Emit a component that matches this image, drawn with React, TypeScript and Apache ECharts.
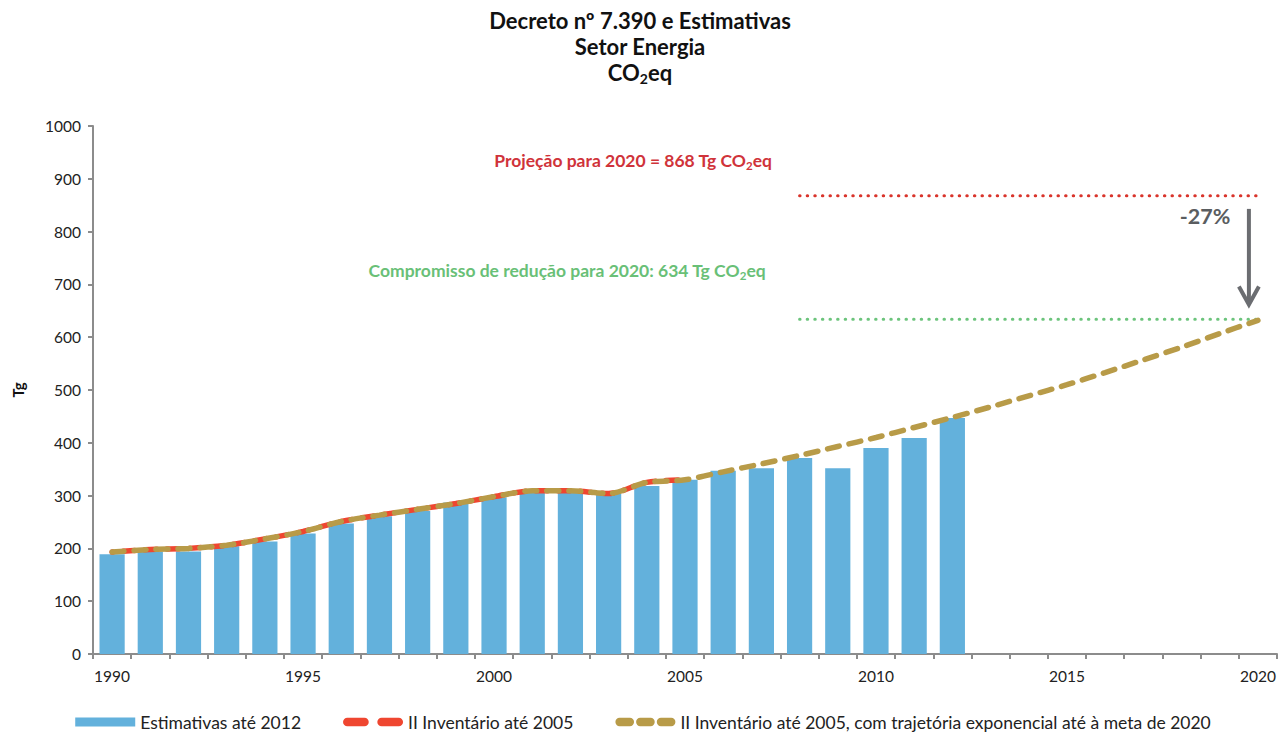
import React, { useEffect, useRef } from 'react';
import * as echarts from 'echarts';

const years = ['1990','1991','1992','1993','1994','1995','1996','1997','1998','1999','2000','2001','2002','2003','2004','2005','2006','2007','2008','2009','2010','2011','2012','2013','2014','2015','2016','2017','2018','2019','2020'];
const estimativas = [189,194,194,204,213,228,247,261,271,287,297,306,306,304,318,330,347,352,371,352,390,409,447];
const inventario2005 = [193,198,200,206,218,232,251,263,274,285,298,309,309,304,325,330];
const trajetoria = [193,198,200,206,218,232,251,263,274,285,298,309,309,304,325,330,345,360,376,393,410,429,448,468,489,510,533,557,581,607,632];
const projecao2020 = 868;
const meta2020 = 634;
const dottedFrom = 2008;
const arrowFrom = 843;
const arrowTo = 660;
const reducao = '-27%';

const FONT = 'Lato, "Open Sans", sans-serif';
const ICON_TWO = 'path://M4,0 H20 A4,4 0 0 1 20,8 H4 A4,4 0 0 1 4,0 Z M36,0 H52 A4,4 0 0 1 52,8 H36 A4,4 0 0 1 36,0 Z';
const ICON_THREE = 'path://M4,0 H14 A4,4 0 0 1 14,8 H4 A4,4 0 0 1 4,0 Z M24,0 H34 A4,4 0 0 1 34,8 H24 A4,4 0 0 1 24,0 Z M44,0 H54 A4,4 0 0 1 54,8 H44 A4,4 0 0 1 44,0 Z';

export default function App() {
  const ref = useRef<HTMLDivElement>(null);
  useEffect(() => {
    if (!ref.current) return;
    const chart = echarts.init(ref.current, null, { renderer: 'svg' });
    const projData = years.map((y) => (Number(y) >= dottedFrom ? projecao2020 : null));
    const metaData = years.map((y) => (Number(y) >= dottedFrom ? meta2020 : null));
    const names = ['Estimativas até 2012', 'II Inventário até 2005', 'II Inventário até 2005, com trajetória exponencial até à meta de 2020'];
    chart.setOption({
      animation: false,
      textStyle: { fontFamily: FONT },
      title: {
        text: 'Decreto nº 7.390 e Estimativas\nSetor Energia\nCO{sub|2}eq',
        left: 635,
        textAlign: 'center',
        top: 2,
        textStyle: {
          fontFamily: FONT,
          fontSize: 22,
          fontWeight: 'bold',
          color: '#111',
          lineHeight: 26,
          rich: {
            sub: { fontFamily: FONT, fontSize: 14, fontWeight: 'bold', color: '#111', lineHeight: 12, verticalAlign: 'bottom' },
          },
        },
      },
      legend: {
        top: 708,
        left: 'center',
        itemWidth: 60,
        itemHeight: 9,
        itemGap: 42,
        data: [
          { name: names[0], icon: 'rect' },
          { name: names[1], icon: ICON_TWO },
          { name: names[2], icon: ICON_THREE },
        ],
        textStyle: { fontFamily: FONT, fontSize: 17.5, color: '#222' },
      },
      grid: { left: 93, right: 9, top: 126, bottom: 80 },
      xAxis: {
        type: 'category',
        data: years,
        boundaryGap: true,
        axisLine: { lineStyle: { color: '#8c8c8c', width: 2 } },
        axisTick: { show: true, interval: 0, length: 5, lineStyle: { color: '#8c8c8c', width: 2 } },
        axisLabel: { interval: 4, fontSize: 15.5, color: '#222', fontFamily: FONT, margin: 14 },
      },
      yAxis: {
        type: 'value',
        min: 0,
        max: 1000,
        interval: 100,
        name: 'Tg',
        nameLocation: 'middle',
        nameRotate: 90,
        nameGap: 68,
        nameTextStyle: { fontFamily: FONT, fontSize: 15, fontWeight: 'bold', color: '#111' },
        axisLine: { show: true, lineStyle: { color: '#8c8c8c', width: 2 } },
        axisTick: { show: true, length: 5, lineStyle: { color: '#8c8c8c', width: 2 } },
        axisLabel: { fontSize: 15.5, color: '#222', fontFamily: FONT, margin: 12, formatter: (v: number) => String(v) },
        splitLine: { show: false },
      },
      series: [
        {
          name: names[0],
          type: 'bar',
          data: estimativas,
          barCategoryGap: '34%',
          itemStyle: { color: '#63b1dc' },
          z: 1,
        },
        {
          name: names[1],
          type: 'line',
          data: inventario2005,
          smooth: 0.3,
          symbol: 'none',
          lineStyle: { color: '#ef4630', width: 5.5, type: [12, 10], dashOffset: 11, cap: 'round' },
          itemStyle: { color: '#ef4630' },
          z: 3,
        },
        {
          name: names[2],
          type: 'line',
          data: trajetoria,
          smooth: 0.3,
          symbol: 'none',
          lineStyle: { color: '#b89b48', width: 5.5, type: [12, 10], cap: 'round' },
          itemStyle: { color: '#b89b48' },
          z: 4,
        },
        {
          name: 'Projeção',
          type: 'line',
          data: projData,
          symbol: 'none',
          lineStyle: { color: '#d9342b', width: 3, type: [0.5, 7.1], cap: 'round' },
          z: 2,
        },
        {
          name: 'Meta',
          type: 'line',
          data: metaData,
          symbol: 'none',
          lineStyle: { color: '#6cc47c', width: 3, type: [0.5, 7.1], cap: 'round' },
          z: 2,
        },
      ],
    });

    const last = years[years.length - 1];
    const pTop = chart.convertToPixel({ xAxisIndex: 0, yAxisIndex: 0 }, [last, arrowFrom]) as number[];
    const pTip = chart.convertToPixel({ xAxisIndex: 0, yAxisIndex: 0 }, [last, arrowTo]) as number[];
    const ax = pTop[0] - 9;
    const grey = '#6b6d71';
    chart.setOption({
      graphic: [
        { type: 'line', shape: { x1: ax, y1: pTop[1], x2: ax, y2: pTip[1] - 2 }, style: { stroke: grey, lineWidth: 4 }, z: 10 },
        { type: 'polyline', shape: { points: [[ax - 10, pTip[1] - 19], [ax, pTip[1] - 1], [ax + 10, pTip[1] - 19]] }, style: { stroke: grey, lineWidth: 4, fill: 'none', lineJoin: 'miter' }, z: 10 },
        { type: 'text', x: 1205, y: 216, style: { text: reducao, fontFamily: FONT, fontSize: 21.5, fontWeight: 'bold', fill: '#5a5d60', align: 'center', verticalAlign: 'middle' }, z: 10 },
        {
          type: 'text', x: 633, y: 160,
          style: {
            text: 'Projeção para 2020 = ' + projecao2020 + ' Tg CO{sub|2}eq',
            fontFamily: FONT, fontSize: 17.5, fontWeight: 'bold', fill: '#d0333a', align: 'center', verticalAlign: 'middle', lineHeight: 22,
            rich: { sub: { fontFamily: FONT, fontSize: 11.5, fontWeight: 'bold', fill: '#d0333a', lineHeight: 11, verticalAlign: 'bottom' } },
          },
          z: 10,
        },
        {
          type: 'text', x: 567, y: 270,
          style: {
            text: 'Compromisso de redução para 2020: ' + meta2020 + ' Tg CO{sub|2}eq',
            fontFamily: FONT, fontSize: 17.5, fontWeight: 'bold', fill: '#69c077', align: 'center', verticalAlign: 'middle', lineHeight: 22,
            rich: { sub: { fontFamily: FONT, fontSize: 11.5, fontWeight: 'bold', fill: '#69c077', lineHeight: 11, verticalAlign: 'bottom' } },
          },
          z: 10,
        },
      ],
    });
    return () => chart.dispose();
  }, []);
  return <div ref={ref} style={{ width: 1286, height: 734, position: 'absolute', left: 0, top: 0 }} />;
}
